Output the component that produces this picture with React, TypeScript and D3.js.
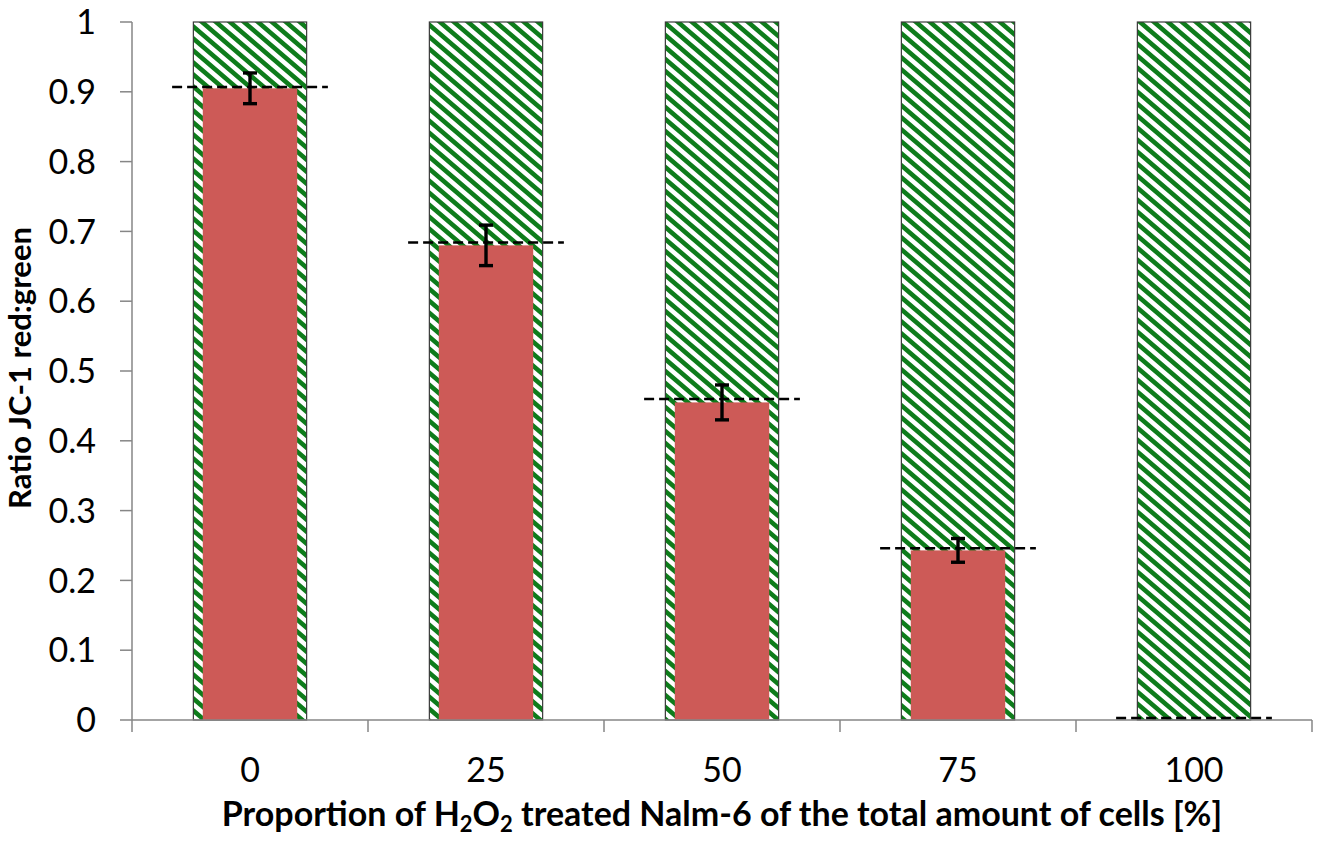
import { useEffect, useRef } from "react";
import * as d3 from "d3";

// chart data
const categories = ["0", "25", "50", "75", "100"];
const totalValues = [1, 1, 1, 1, 1]; // hatched (green) background bars
const redValues = [0.905, 0.68, 0.455, 0.243, 0];
const redErrors = [0.022, 0.029, 0.025, 0.017, 0];
const expectedValues = [0.907, 0.684, 0.46, 0.246, 0.003];
const yTicks = [0, 0.1, 0.2, 0.3, 0.4, 0.5, 0.6, 0.7, 0.8, 0.9, 1];

const WIDTH = 1320;
const HEIGHT = 841;
const FONT = "Lato, 'Open Sans', sans-serif";

export default function App() {
  const svgRef = useRef<SVGSVGElement>(null);

  useEffect(() => {
    document.body.style.margin = "0";
    if (!svgRef.current) return;
    const svg = d3.select(svgRef.current);
    svg.selectAll("*").remove();

    const margin = { top: 22, right: 8, bottom: 121, left: 132 };
    const innerW = WIDTH - margin.left - margin.right;
    const innerH = HEIGHT - margin.top - margin.bottom;

    // hatch pattern (downward diagonal stripes)
    const pw = 14;
    const ph = 12;
    const defs = svg.append("defs");
    const pat = defs
      .append("pattern")
      .attr("id", "hatch")
      .attr("patternUnits", "userSpaceOnUse")
      .attr("width", pw)
      .attr("height", ph);
    pat.append("rect").attr("width", pw).attr("height", ph).attr("fill", "#fff");
    pat
      .append("path")
      .attr(
        "d",
        `M${-pw},${-ph} L${2 * pw},${2 * ph} M0,${-ph} L${3 * pw},${2 * ph} M${-2 * pw},${-ph} L${pw},${2 * ph}`
      )
      .attr("stroke", "#0e7c1b")
      .attr("stroke-width", 4.6);

    const g = svg
      .append("g")
      .attr("transform", `translate(${margin.left},${margin.top})`);

    const x = d3.scaleBand().domain(categories).range([0, innerW]);
    const y = d3.scaleLinear().domain([0, 1]).range([innerH, 0]);

    const hatchW = x.bandwidth() * 0.48;
    const redW = x.bandwidth() * 0.4;

    // hatched bars
    g.selectAll("rect.total")
      .data(totalValues)
      .enter()
      .append("rect")
      .attr("class", "total")
      .attr("x", (_, i) => x(categories[i])! + (x.bandwidth() - hatchW) / 2)
      .attr("y", (d) => y(d))
      .attr("width", hatchW)
      .attr("height", (d) => innerH - y(d))
      .attr("fill", "url(#hatch)")
      .attr("stroke", "#3a3a3a")
      .attr("stroke-width", 1.2);

    // red bars
    g.selectAll("rect.red")
      .data(redValues)
      .enter()
      .append("rect")
      .attr("class", "red")
      .attr("x", (_, i) => x(categories[i])! + (x.bandwidth() - redW) / 2)
      .attr("y", (d) => y(d))
      .attr("width", redW)
      .attr("height", (d) => innerH - y(d))
      .attr("fill", "#cd5a57");

    // axes
    const axisColor = "#868686";
    g.append("line")
      .attr("x1", 0)
      .attr("x2", 0)
      .attr("y1", y(1))
      .attr("y2", innerH)
      .attr("stroke", axisColor)
      .attr("stroke-width", 1.5);
    yTicks.forEach((t) => {
      g.append("line")
        .attr("x1", -12)
        .attr("x2", 0)
        .attr("y1", y(t))
        .attr("y2", y(t))
        .attr("stroke", axisColor)
        .attr("stroke-width", 1.5);
      g.append("text")
        .attr("x", -36)
        .attr("y", y(t))
        .attr("dy", "0.36em")
        .attr("text-anchor", "end")
        .attr("font-family", FONT)
        .attr("font-size", 34)
        .attr("fill", "#000")
        .text(d3.format("~g")(t));
    });

    g.append("line")
      .attr("x1", 0)
      .attr("x2", innerW)
      .attr("y1", innerH)
      .attr("y2", innerH)
      .attr("stroke", axisColor)
      .attr("stroke-width", 1.5);
    categories.forEach((c, i) => {
      const bx = x(c)!;
      g.append("line")
        .attr("x1", bx)
        .attr("x2", bx)
        .attr("y1", innerH)
        .attr("y2", innerH + 12)
        .attr("stroke", axisColor)
        .attr("stroke-width", 1.5);
      if (i === categories.length - 1) {
        g.append("line")
          .attr("x1", bx + x.bandwidth())
          .attr("x2", bx + x.bandwidth())
          .attr("y1", innerH)
          .attr("y2", innerH + 12)
          .attr("stroke", axisColor)
          .attr("stroke-width", 1.5);
      }
      g.append("text")
        .attr("x", bx + x.bandwidth() / 2)
        .attr("y", innerH + 62)
        .attr("text-anchor", "middle")
        .attr("font-family", FONT)
        .attr("font-size", 34)
        .attr("fill", "#000")
        .text(c);
    });

    // expected value dashed lines
    const dashW = x.bandwidth() * 0.66;
    g.selectAll("line.expected")
      .data(expectedValues)
      .enter()
      .append("line")
      .attr("class", "expected")
      .attr("x1", (_, i) => x(categories[i])! + (x.bandwidth() - dashW) / 2)
      .attr("x2", (_, i) => x(categories[i])! + (x.bandwidth() + dashW) / 2)
      .attr("y1", (d) => y(d))
      .attr("y2", (d) => y(d))
      .attr("stroke", "#000")
      .attr("stroke-width", 2.5)
      .attr("stroke-dasharray", "10,5");

    // error bars
    redValues.forEach((v, i) => {
      const e = redErrors[i];
      if (!e) return;
      const cx = x(categories[i])! + x.bandwidth() / 2;
      const eg = g.append("g").attr("stroke", "#000").attr("stroke-width", 3.4);
      eg.append("line").attr("x1", cx).attr("x2", cx).attr("y1", y(v + e)).attr("y2", y(v - e));
      eg.append("line").attr("x1", cx - 7).attr("x2", cx + 7).attr("y1", y(v + e)).attr("y2", y(v + e));
      eg.append("line").attr("x1", cx - 7).attr("x2", cx + 7).attr("y1", y(v - e)).attr("y2", y(v - e));
    });

    // axis titles
    svg
      .append("text")
      .attr("transform", `translate(31,368) rotate(-90)`)
      .attr("text-anchor", "middle")
      .attr("font-family", FONT)
      .attr("font-size", 31)
      .attr("font-weight", "bold")
      .attr("fill", "#000")
      .text("Ratio JC-1 red:green");

    const xt = svg
      .append("text")
      .attr("x", 722)
      .attr("y", 826)
      .attr("text-anchor", "middle")
      .attr("font-family", FONT)
      .attr("font-size", 34)
      .attr("font-weight", "bold")
      .attr("fill", "#000");
    xt.append("tspan").text("Proportion of H");
    xt.append("tspan").attr("font-size", 22).attr("dy", 6).text("2");
    xt.append("tspan").attr("dy", -6).text("O");
    xt.append("tspan").attr("font-size", 22).attr("dy", 6).text("2");
    xt.append("tspan").attr("dy", -6).text(" treated Nalm-6 of the total amount of cells [%]");
  }, []);

  return (
    <svg
      ref={svgRef}
      width={WIDTH}
      height={HEIGHT}
      viewBox={`0 0 ${WIDTH} ${HEIGHT}`}
      style={{ display: "block", background: "#fff" }}
    />
  );
}
